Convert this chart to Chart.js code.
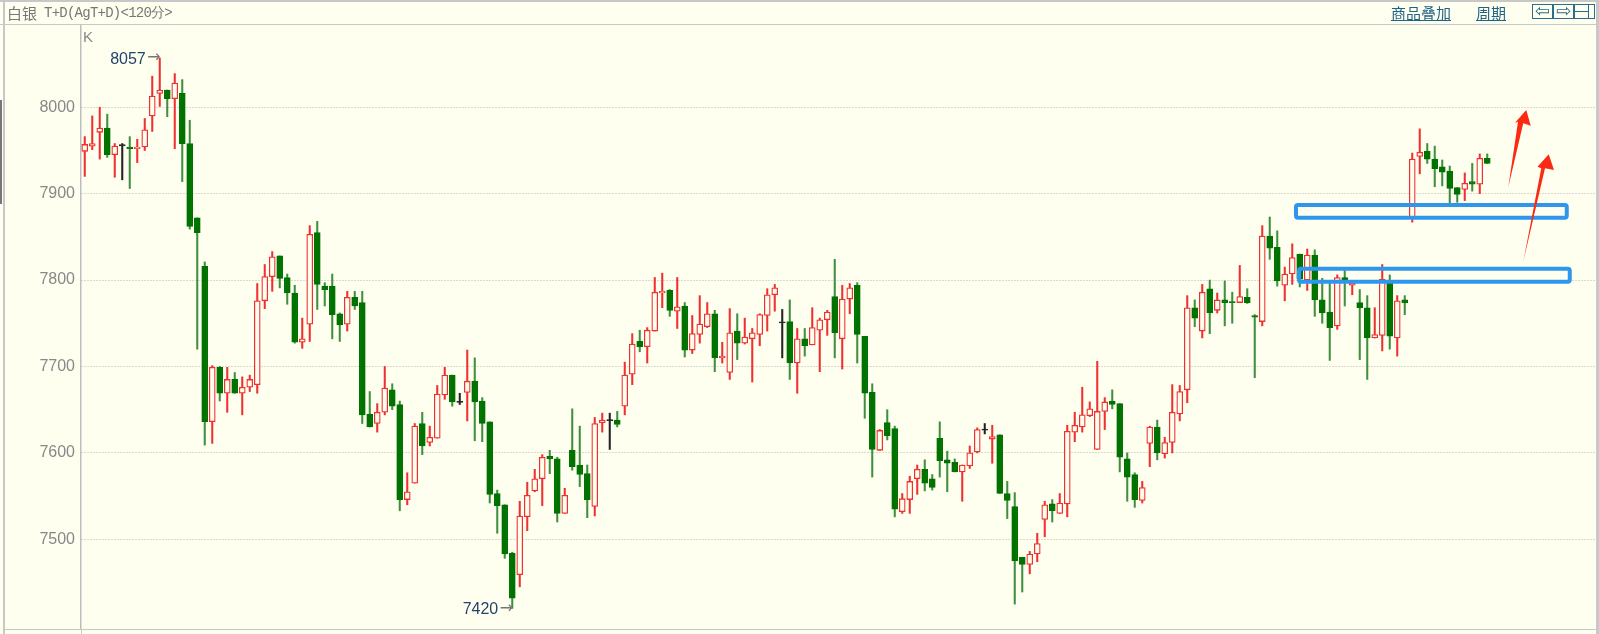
<!DOCTYPE html>
<html>
<head>
<meta charset="utf-8">
<title>白银 T+D</title>
<script src="https://cdn.jsdelivr.net/npm/chart.js@4"></script>
<style>
  html, body { margin: 0; padding: 0; background: #fffff0; overflow: hidden; }
  #wrap { position: relative; width: 1599px; height: 634px; font-family: "Liberation Sans", sans-serif; }
  #wrap canvas { position: absolute; left: 0; top: 0; }
  .frame { position: absolute; background: #c8c8c8; }
  .title { position: absolute; left: 7px; top: 3px; color: #777; font-size: 15px; line-height: 20px; font-family: "Noto Sans CJK SC", sans-serif; white-space: pre; }
  .title span { position: absolute; left: 37px; top: 0; font-family: "Liberation Mono", monospace; font-size: 14px; letter-spacing: -.75px; }
  .k { position: absolute; left: 83px; top: 28px; color: #888; font-size: 15px; }
  .link { position: absolute; top: 3px; color: #1f6488; font-size: 15px; line-height: 20px; text-decoration: underline; font-family: "Noto Sans CJK SC", sans-serif; }
  .btn { position: absolute; top: 4px; width: 19px; height: 13px; border: 1px solid #2a6d8c; color: #2a6d8c; font: 18px/12px "DejaVu Sans", sans-serif; text-align: center; overflow: hidden; }
  .btn i { position: absolute; left: 0; right: 5px; top: 6px; height: 1px; background: #2a6d8c; }
  .btn b { position: absolute; right: 5px; top: 0; bottom: 0; width: 1px; background: #2a6d8c; }
</style>
</head>
<body>
<div id="wrap">
  <canvas id="kline" width="1599" height="634"></canvas>
  <div class="frame" style="left:0;top:0;width:1599px;height:2px"></div>
  <div class="frame" style="left:3px;top:2px;width:2px;height:632px"></div>
  <div class="frame" style="left:0;top:24px;width:1599px;height:1px"></div>
  <div class="frame" style="left:3px;top:629px;width:1596px;height:1px"></div>
  <div class="frame" style="left:81px;top:629px;width:1px;height:5px"></div>
  <div class="frame" style="left:1596px;top:2px;width:3px;height:632px"></div>
  <div class="frame" style="left:0;top:100px;width:2px;height:104px;background:#777"></div>
  <div class="title">白银<span>T+D(AgT+D)&lt;120分&gt;</span></div>
  <div class="k">K</div>
  <div class="link" style="left:1391px">商品叠加</div>
  <div class="link" style="left:1476px">周期</div>
  <div class="btn" style="left:1532px">⇦</div>
  <div class="btn" style="left:1553px">⇨</div>
  <div class="btn" style="left:1574px"><i></i><b></b></div>
</div>
<script>
// 120 minute bars
const opens = [
  7949,7955,7971,7976,7945,7956,7954,7952,7954,7990,
  8016,8020,8010,8016,7958,7872,7816,7636,7699,7669,
  7685,7669,7676,7679,7776,7804,7828,7803,7785,7728,
  7749,7855,7793,7793,7761,7749,7780,7774,7645,7634,
  7647,7673,7656,7546,7565,7634,7612,7617,7667,7690,
  7659,7670,7683,7660,7636,7553,7540,7484,7459,7526,
  7556,7570,7596,7593,7530,7603,7586,7576,7538,7635,
  7638,7638,7654,7691,7729,7723,7741,7785,7788,7764,
  7770,7719,7737,7746,7761,7710,7693,7741,7727,7732,
  7737,7759,7783,7751,7752,7704,7732,7725,7742,7754,
  7781,7732,7778,7794,7735,7670,7603,7635,7628,7532,
  7546,7570,7581,7570,7617,7592,7589,7578,7585,7601,
  7627,7616,7621,7553,7538,7479,7471,7483,7523,7541,
  7530,7541,7624,7630,7643,7604,7648,7660,7657,7593,
  7575,7545,7611,7630,7599,7612,7645,7673,7768,7741,
  7790,7765,7777,7775,7774,7780,7759,7752,7851,7838,
  7794,7807,7830,7800,7829,7777,7763,7747,7803,7794,
  7774,7768,7733,7736,7799,7733,7777,7872,7943,7949,
  7940,7931,7926,7907,7905,7914,7911,7941
];
const highs = [
  7966,7990,8000,7992,7958,7958,7966,7963,7987,8036,
  8057,8020,8039,8032,7985,7872,7821,7701,7700,7699,
  7693,7688,7690,7796,7818,7833,7828,7807,7794,7756,
  7863,7868,7797,7807,7762,7787,7787,7787,7671,7657,
  7700,7680,7660,7577,7634,7647,7631,7678,7699,7690,
  7669,7719,7710,7664,7636,7557,7540,7485,7544,7566,
  7581,7598,7603,7595,7559,7651,7631,7586,7641,7646,
  7646,7648,7705,7738,7742,7745,7803,7808,7789,7803,
  7774,7759,7782,7774,7765,7728,7767,7761,7756,7744,
  7761,7790,7795,7766,7777,7744,7744,7768,7756,7765,
  7824,7794,7796,7797,7735,7680,7627,7650,7631,7553,
  7573,7586,7592,7575,7636,7602,7593,7586,7608,7629,
  7634,7632,7621,7567,7554,7479,7486,7507,7544,7546,
  7553,7632,7647,7676,7659,7706,7664,7673,7657,7600,
  7577,7567,7631,7638,7618,7679,7678,7782,7777,7795,
  7800,7785,7799,7786,7817,7790,7760,7863,7873,7857,
  7815,7842,7830,7836,7835,7802,7797,7806,7811,7799,
  7789,7782,7768,7818,7806,7782,7782,7947,7975,7958,
  7955,7939,7932,7907,7924,7935,7946,7946
];
const lows = [
  7920,7951,7940,7942,7919,7916,7906,7936,7950,7972,
  8001,7989,7952,7914,7859,7720,7609,7611,7660,7647,
  7669,7644,7671,7669,7767,7787,7791,7772,7727,7721,
  7729,7766,7770,7732,7729,7741,7766,7634,7630,7624,
  7644,7650,7533,7540,7565,7598,7608,7617,7662,7654,
  7656,7637,7614,7613,7542,7507,7478,7420,7445,7510,
  7555,7539,7576,7520,7530,7580,7561,7525,7527,7624,
  7604,7630,7644,7679,7717,7704,7741,7768,7758,7744,
  7711,7715,7727,7745,7694,7704,7685,7708,7726,7682,
  7724,7741,7764,7710,7685,7669,7712,7725,7694,7736,
  7710,7697,7761,7704,7640,7572,7603,7615,7526,7530,
  7530,7552,7556,7557,7572,7555,7578,7544,7582,7600,
  7622,7588,7553,7524,7425,7439,7460,7474,7503,7520,
  7530,7526,7613,7624,7642,7604,7627,7651,7578,7544,
  7537,7542,7584,7592,7594,7600,7637,7658,7746,7733,
  7738,7762,7747,7750,7774,7773,7687,7747,7824,7793,
  7776,7795,7792,7788,7758,7750,7707,7743,7770,7783,
  7708,7685,7733,7718,7720,7712,7760,7867,7923,7935,
  7908,7909,7885,7890,7892,7903,7900,7935
];
const closes = [
  7957,7958,7976,7945,7955,7956,7952,7954,7974,8013,
  8020,8010,8028,7958,7862,7855,7636,7699,7669,7685,
  7669,7676,7685,7776,7804,7827,7802,7785,7728,7732,
  7853,7795,7789,7760,7748,7780,7770,7644,7630,7647,
  7675,7654,7546,7555,7631,7608,7618,7668,7690,7659,
  7659,7683,7659,7634,7552,7539,7483,7432,7527,7551,
  7570,7595,7593,7530,7551,7584,7575,7546,7634,7638,
  7638,7633,7690,7726,7723,7742,7786,7787,7765,7769,
  7719,7738,7749,7761,7710,7712,7739,7727,7734,7739,
  7760,7783,7791,7751,7704,7732,7724,7745,7754,7763,
  7739,7778,7791,7737,7669,7604,7626,7620,7535,7547,
  7567,7581,7565,7560,7591,7588,7578,7586,7600,7627,
  7627,7619,7553,7545,7475,7471,7483,7495,7540,7533,
  7542,7625,7632,7644,7651,7648,7659,7656,7595,7572,
  7546,7560,7630,7600,7612,7647,7671,7768,7756,7786,
  7762,7777,7774,7774,7781,7774,7757,7851,7837,7799,
  7807,7826,7801,7829,7777,7762,7745,7803,7798,7797,
  7768,7733,7737,7801,7735,7776,7774,7940,7948,7940,
  7929,7925,7906,7899,7912,7911,7941,7935
];
const tickValues = [7500, 7600, 7700, 7800, 7900, 8000];

// hand drawn marks, in bar index / price units
const boxes = [
  [161.5, 197.6, 7887, 7872],
  [161.9, 198.0, 7813, 7798]
];
const arrows = [
  [[189.8, 7907.4], [191.1, 7983.3], [190.7, 7982.2], [192.2, 7996.9], [192.8, 7978.7], [191.8, 7981.5]],
  [[191.8, 7821.3], [194.2, 7929.4], [193.7, 7931.2], [195.2, 7945.6], [195.9, 7927.4], [194.7, 7929.4]]
];

const emptySlots = 202 - opens.length;
const categories = opens.map((_, i) => String(i)).concat(Array(emptySlots).fill(''));

const RED = '#f03030', GREEN = '#007200', WICK_GREEN = '#3f8f3f', BLACK = '#222', PAPER = '#fffff0';

function barColor(i, up, down, flat) {
  if (closes[i] > opens[i]) return up;
  return closes[i] < opens[i] ? down : flat;
}

// a flat bar still needs a sliver of height to show up
const bodies = opens.map((o, i) => o === closes[i] ? [o - 0.7, o + 0.7] : [o, closes[i]]);
const wicks = lows.map((l, i) => [l, highs[i]]);

const annotate = {
  id: 'annotate',
  afterDatasetsDraw(chart) {
    const { ctx, scales: { x, y } } = chart;
    ctx.save();

    // high and low labels
    [[highs.indexOf(Math.max(...highs)), Math.max(...highs)],
     [lows.indexOf(Math.min(...lows)), Math.min(...lows)]].forEach(([i, v]) => {
      const px = x.getPixelForValue(i), py = y.getPixelForValue(v);
      ctx.textAlign = 'right';
      ctx.textBaseline = 'middle';
      ctx.font = '16px "DejaVu Sans"';
      ctx.fillStyle = '#777';
      ctx.fillText('→', px + 1, py);
      ctx.font = '16px "Liberation Sans"';
      ctx.fillStyle = '#24456a';
      ctx.fillText(String(v), px - 14, py + 1.5);
    });

    ctx.strokeStyle = '#2f96ee';
    ctx.lineWidth = 4;
    boxes.forEach(([a, b, top, bottom]) => {
      const x0 = x.getPixelForValue(a), x1 = x.getPixelForValue(b);
      const y0 = y.getPixelForValue(top), y1 = y.getPixelForValue(bottom);
      ctx.beginPath();
      ctx.roundRect(x0, y0, x1 - x0, y1 - y0, 2);
      ctx.stroke();
    });

    ctx.fillStyle = '#fa2a14';
    arrows.forEach(points => {
      ctx.beginPath();
      points.forEach(([i, v], n) => {
        const px = x.getPixelForValue(i), py = y.getPixelForValue(v);
        if (n === 0) ctx.moveTo(px, py); else ctx.lineTo(px, py);
      });
      ctx.closePath();
      ctx.fill();
    });
    ctx.restore();
  }
};

new Chart(document.getElementById('kline'), {
  type: 'bar',
  data: {
    labels: categories,
    datasets: [{
      label: 'wick',
      data: wicks,
      order: 2,
      grouped: false,
      barThickness: 1.4,
      backgroundColor: opens.map((_, i) => barColor(i, RED, WICK_GREEN, BLACK))
    }, {
      label: 'body',
      data: bodies,
      order: 1,
      grouped: false,
      barThickness: 6,
      borderSkipped: false,
      borderWidth: 1.3,
      borderColor: opens.map((_, i) => barColor(i, RED, GREEN, BLACK)),
      backgroundColor: opens.map((_, i) => barColor(i, PAPER, GREEN, BLACK))
    }]
  },
  options: {
    responsive: false,
    animation: false,
    layout: { padding: { top: 25, bottom: 5, right: 3, left: 0 } },
    plugins: { legend: { display: false }, tooltip: { enabled: false } },
    scales: {
      x: { display: false, offset: true },
      y: {
        min: 7396.2,
        max: 8095.2,
        // no room kept for half a tick label, the plot runs to the frame
        afterFit(scale) { scale.width = 81; scale.paddingTop = 0; scale.paddingBottom = 0; },
        afterBuildTicks(scale) { scale.ticks = tickValues.map(value => ({ value })); },
        border: { display: true, color: '#bdbdbd', width: 1.5, dash: [1, 2] },
        grid: { color: '#b4b4b4', lineWidth: 1, drawTicks: false },
        ticks: {
          color: '#888',
          padding: 6,
          font: { family: '"Liberation Sans"', size: 16 },
          callback: value => String(value)
        }
      }
    }
  },
  plugins: [annotate]
});
</script>
</body>
</html>
